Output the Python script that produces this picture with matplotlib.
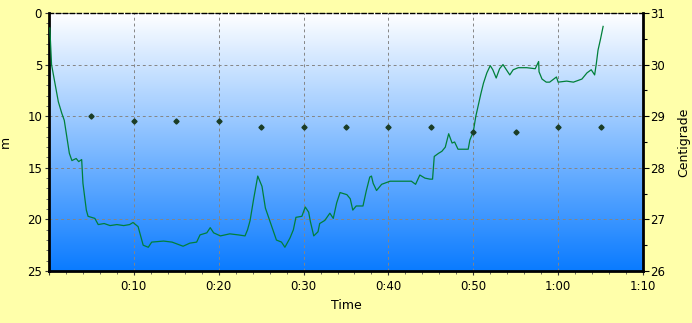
import numpy as np
import matplotlib
matplotlib.use("Agg")
import matplotlib.pyplot as plt
from matplotlib.colors import LinearSegmentedColormap
from matplotlib.ticker import MultipleLocator, FuncFormatter

# depth profile (time in minutes, depth in metres)
time_min = [0.1, 0.3, 0.7, 1.1, 1.5, 1.8, 2.1, 2.4, 2.7, 3.2,
            3.5, 3.85, 4.0, 4.4, 4.6, 5.0, 5.4, 5.8, 6.5, 7.2,
            8.0, 8.8, 9.5, 9.9, 10.5, 11.1, 11.7, 12.1, 13.5, 14.5,
            15.8, 16.6, 17.4, 17.8, 18.6, 19.0, 19.4, 20.2, 21.3, 22.3,
            23.1, 23.4, 23.7, 24.1, 24.6, 25.1, 25.5, 26.0, 26.8, 27.4,
            27.8, 28.4, 28.8, 29.1, 29.8, 30.2, 30.6, 30.8, 31.2, 31.7,
            31.9, 32.5, 33.1, 33.5, 33.9, 34.3, 35.1, 35.5, 35.8, 36.2,
            37.0, 37.4, 37.8, 38.0, 38.2, 38.6, 39.2, 40.2, 41.4, 42.7,
            43.2, 43.7, 44.3, 44.9, 45.2, 45.4, 45.9, 46.3, 46.7, 47.1,
            47.5, 47.8, 48.2, 49.4, 49.6, 50.0, 50.3, 50.6, 50.9, 51.2,
            51.6, 52.0, 52.3, 52.7, 53.1, 53.5, 53.9, 54.3, 54.7, 55.3,
            56.3, 57.3, 57.7, 57.75, 58.1, 58.6, 59.0, 59.8, 60.0, 61.0,
            61.8, 62.8, 63.4, 63.9, 64.3, 64.5, 64.7, 65.0, 65.3]
depth_m = [1.45, 5.0, 6.8, 8.6, 9.7, 10.4, 12.0, 13.6, 14.3, 14.1,
           14.4, 14.2, 16.5, 19.1, 19.7, 19.8, 19.9, 20.5, 20.4, 20.6,
           20.5, 20.6, 20.5, 20.3, 20.7, 22.5, 22.7, 22.2, 22.1, 22.2,
           22.6, 22.3, 22.2, 21.5, 21.3, 20.8, 21.3, 21.6, 21.4, 21.5,
           21.6, 21.0, 20.1, 18.1, 15.8, 16.8, 18.9, 20.1, 22.0, 22.2,
           22.7, 21.8, 21.0, 19.8, 19.7, 18.8, 19.3, 20.2, 21.6, 21.2,
           20.4, 20.1, 19.4, 19.9, 18.4, 17.4, 17.6, 18.0, 19.1, 18.7,
           18.7, 17.2, 15.9, 15.8, 16.5, 17.2, 16.6, 16.3, 16.3, 16.3,
           16.6, 15.7, 16.0, 16.1, 16.1, 13.9, 13.6, 13.4, 13.0, 11.7,
           12.6, 12.5, 13.2, 13.2, 12.3, 11.5, 10.0, 8.9, 7.8, 6.8,
           5.8, 5.1, 5.5, 6.3, 5.4, 5.0, 5.5, 6.0, 5.5, 5.3,
           5.3, 5.4, 4.7, 5.7, 6.4, 6.7, 6.7, 6.2, 6.7, 6.6,
           6.7, 6.4, 5.8, 5.5, 6.0, 4.9, 3.6, 2.5, 1.3]

# water temperature samples
temp_time = [5, 10, 15, 20, 25, 30, 35, 40, 45, 50, 55, 60, 65]
temp_c = [29.0, 28.9, 28.9, 28.9, 28.8, 28.8, 28.8, 28.8, 28.8, 28.7, 28.7, 28.8, 28.8]

bg = '#FFFFAA'
fig = plt.figure(figsize=(6.92, 3.23), dpi=100, facecolor=bg)
ax = fig.add_axes([49/692, 52/323, 594/692, 258/323])

# white -> blue gradient behind the plot
cmap = LinearSegmentedColormap.from_list('water', ['#FFFFFF', '#0A7BFF'])
grad = np.linspace(0, 1, 256).reshape(-1, 1)
ax.imshow(grad, cmap=cmap, aspect='auto', extent=[0, 1, 0, 1],
          transform=ax.transAxes, zorder=0)

ax.plot(time_min, depth_m, color='#00803A', linewidth=0.9, zorder=3)
ax.set_xlim(0, 70)
ax.set_ylim(25, 0)

ax.xaxis.set_major_locator(MultipleLocator(10))
ax.xaxis.set_minor_locator(MultipleLocator(2))
ax.xaxis.set_major_formatter(FuncFormatter(
    lambda v, p: '' if v == 0 else f'{int(v) // 60}:{int(v) % 60:02d}'))
ax.yaxis.set_major_locator(MultipleLocator(5))
ax.yaxis.set_minor_locator(MultipleLocator(1))
ax.grid(True, which='major', color='#858585', linestyle=(0, (3, 3)), linewidth=0.7, zorder=1)
ax.tick_params(axis='both', which='major', labelsize=8.5, length=3, width=0.8, color='#333333')
ax.tick_params(axis='both', which='minor', length=2, width=0.6, color='#555555')
ax.tick_params(axis='y', pad=2)

for s in ['left', 'bottom']:
    ax.spines[s].set_linewidth(2)
ax.spines['right'].set_visible(False)
ax.spines['top'].set_linestyle((0, (3, 2)))
ax.spines['top'].set_linewidth(1)

ax.set_ylabel('m', fontsize=9)
ax.yaxis.set_label_coords(-0.062, 0.5)
ax.set_xlabel('Time', fontsize=9, labelpad=4)

ax2 = ax.twinx()
ax2.plot(temp_time, temp_c, linestyle='none', marker='D', markersize=2.6,
         color='#1B3D26', zorder=4)
ax2.set_ylim(26, 31)
ax2.yaxis.set_major_locator(MultipleLocator(1))
ax2.yaxis.set_minor_locator(MultipleLocator(0.5))
ax2.tick_params(axis='y', which='major', labelsize=8.5, length=4, width=0.8, pad=1)
ax2.tick_params(axis='y', which='minor', length=3, width=0.8)
for s in ['left', 'bottom', 'top']:
    ax2.spines[s].set_visible(False)
ax2.spines['right'].set_linewidth(2)
ax2.set_ylabel('Centigrade', fontsize=9)
ax2.yaxis.set_label_coords(1.058, 0.5)

fig.savefig('out.png', dpi=100, facecolor=bg)
